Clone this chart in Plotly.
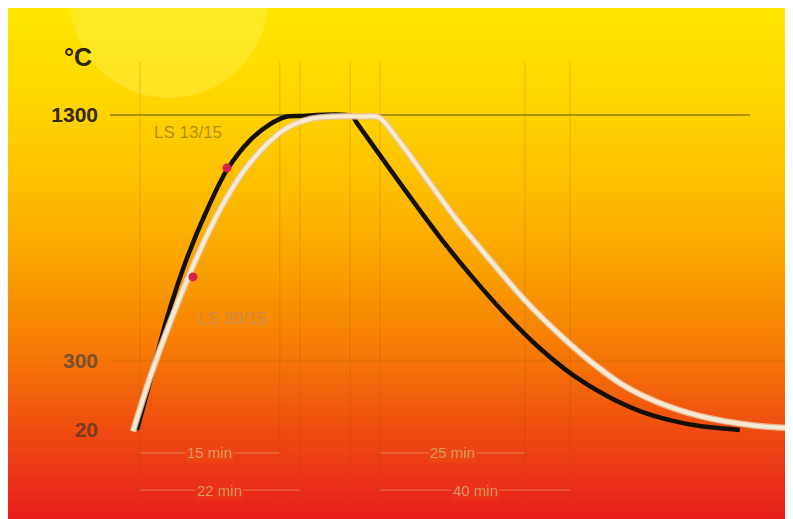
import plotly.graph_objects as go

# ---------------- data (time in minutes, temperature in °C) ----------------
black_time = [0.25, 2.1, 4.0, 6.5, 9.0, 11.5, 14.4, 16.9, 18.75, 20.6, 27.1,
              27.75, 33.1, 38.1, 42.25, 46.5, 50.6, 54.75, 59.0, 63.1, 67.25, 70.6, 75.6]
black_temp = [20, 243, 475, 719, 914, 1077, 1198, 1263, 1292, 1296, 1296,
              1267, 1024, 804, 638, 483, 352, 243, 158, 97, 57, 36, 20]

white_time = [-0.25, 1.9, 4.4, 7.75, 10.6, 13.5, 16.25, 19.0, 21.9, 25.0, 28.5, 30.5,
              33.1, 40.25, 44.4, 48.5, 52.75, 56.9, 61.0, 65.25, 70.6, 76.9, 81.9]
white_temp = [15, 235, 459, 723, 914, 1068, 1174, 1247, 1284, 1294, 1294, 1290,
              1190, 873, 711, 556, 418, 300, 203, 134, 77, 40, 28]

dot_time = [11.5, 7.25]
dot_temp = [1085, 642]

curve_names = ["LS 13/15", "LS 30/15"]
label_time = [6.6, 12.1]
label_temp = [1227, 475]

y_ticks = [20, 300, 1300]
y_tick_labels = ["20", "300", "1300"]

marker_times = [0.6, 18.1, 20.6, 26.9, 30.6, 48.75, 54.4]

bracket_start = [0.6, 0.6, 30.6, 30.6]
bracket_end = [18.1, 20.6, 48.75, 54.4]
bracket_level = [-73, -224, -73, -224]
bracket_labels = ["15 min", "22 min", "25 min", "40 min"]

# ---------------- layout helpers (reference pixel -> paper) ----------------
OFF = 8              # page offset of the figure
W, H = 785, 511
ML = 91
PW = W - ML


def px_x(px):
    return (px - OFF - ML) / PW


def px_y(py):
    return 1 - (py - OFF) / H


def hex_rgb(h):
    h = h.lstrip("#")
    return tuple(int(h[i:i + 2], 16) for i in (0, 2, 4))


grad = [(8, "#FFE600"), (100, "#FFD600"), (200, "#FDBA00"), (280, "#F99C00"),
        (350, "#F67A05"), (420, "#F0520F"), (470, "#EC3618"), (520, "#E61E1A")]


def color_at(py):
    for (a, ca), (b, cb) in zip(grad[:-1], grad[1:]):
        if a <= py <= b:
            f = (py - a) / (b - a)
            r1, g1, b1 = hex_rgb(ca)
            r2, g2, b2 = hex_rgb(cb)
            return "rgb(%d,%d,%d)" % (round(r1 + (r2 - r1) * f), round(g1 + (g2 - g1) * f), round(b1 + (b2 - b1) * f))
    return grad[-1][1]


shapes = []
n = 128
top, bot = 8, 520
for i in range(n):
    y0 = top + (bot - top) * i / n
    y1 = top + (bot - top) * (i + 1) / n + 3
    shapes.append(dict(type="rect", xref="paper", yref="paper", x0=px_x(6), x1=px_x(786),
                       y0=px_y(min(y1, bot)), y1=px_y(y0), fillcolor=color_at((y0 + y1 - 3) / 2),
                       line=dict(width=0), layer="below"))

# faint watermark circle
shapes.append(dict(type="circle", xref="paper", yref="paper", x0=px_x(70), x1=px_x(268),
                   y0=px_y(98), y1=px_y(-100), fillcolor="rgba(255,250,120,0.3)",
                   line=dict(width=0), layer="below"))
shapes.append(dict(type="rect", xref="paper", yref="paper", x0=px_x(0), x1=px_x(800),
                   y0=px_y(8), y1=px_y(-10), fillcolor="white", line=dict(width=0), layer="below"))

# vertical reference lines
for t in marker_times:
    shapes.append(dict(type="line", xref="x", yref="paper", x0=t, x1=t, y0=px_y(500), y1=px_y(62),
                       line=dict(color="rgba(150,80,0,0.2)", width=1.2), layer="below"))

# horizontal lines
shapes.append(dict(type="line", xref="paper", yref="y", x0=px_x(110), x1=px_x(750), y0=1300, y1=1300,
                   line=dict(color="rgba(110,85,0,0.7)", width=1.5), layer="below"))
shapes.append(dict(type="line", xref="paper", yref="y", x0=px_x(110), x1=px_x(790), y0=300, y1=300,
                   line=dict(color="rgba(170,80,0,0.22)", width=1.2), layer="below"))

# brackets
for s, e, lv in zip(bracket_start, bracket_end, bracket_level):
    shapes.append(dict(type="line", xref="x", yref="y", x0=s, x1=e, y0=lv, y1=lv,
                       line=dict(color="rgba(230,170,110,0.5)", width=1.2), layer="below"))

fig = go.Figure()

fig.add_trace(go.Scatter(x=black_time, y=black_temp, mode="lines",
                         line=dict(color="#141008", width=4.5, shape="spline", smoothing=0.9),
                         showlegend=False, hoverinfo="skip"))
fig.add_trace(go.Scatter(x=white_time, y=white_temp, mode="lines",
                         line=dict(color="rgba(230,195,170,0.85)", width=6.5, shape="spline", smoothing=0.9),
                         showlegend=False, hoverinfo="skip"))
fig.add_trace(go.Scatter(x=white_time, y=white_temp, mode="lines",
                         line=dict(color="#F6EBD2", width=4, shape="spline", smoothing=0.9),
                         showlegend=False, hoverinfo="skip"))
fig.add_trace(go.Scatter(x=dot_time, y=dot_temp, mode="markers",
                         marker=dict(color="#D62050", size=9),
                         showlegend=False, hoverinfo="skip"))

annotations = []
label_colors = ["rgba(140,115,0,0.7)", "rgba(190,140,100,0.8)"]
for name, t, T, c in zip(curve_names, label_time, label_temp, label_colors):
    annotations.append(dict(x=t, y=T, xref="x", yref="y", text=name, showarrow=False,
                            font=dict(family="Liberation Sans", size=17, color=c)))

bg_cols = ["#EE4515", "#EA3018", "#EE4515", "#EA3018"]
for s, e, lv, lab, bc in zip(bracket_start, bracket_end, bracket_level, bracket_labels, bg_cols):
    annotations.append(dict(x=(s + e) / 2, y=lv, xref="x", yref="y", text=lab, showarrow=False,
                            bgcolor=bc, borderpad=1,
                            font=dict(family="Liberation Sans", size=15, color="rgba(215,170,110,0.85)")))

annotations.append(dict(x=px_x(94), y=px_y(41), xref="paper", yref="paper", text="<b>°C</b>",
                        showarrow=False, xanchor="right",
                        font=dict(family="Liberation Sans", size=25, color="#2E2400")))

tick_cols = ["#7A3A18", "#7A5030", "#33280A"]
ticktext = ["<b><span style='color:%s'>%s</span></b>" % (c, l) for c, l in zip(tick_cols, y_tick_labels)]

x_lo = (OFF + ML - 135) / 8
x_hi = (OFF + W - 135) / 8
y_hi = 20 + (430 - OFF) * 4.0635
y_lo = 20 - (OFF + H - 430) * 4.0635

fig.update_layout(
    width=W, height=H,
    margin=dict(l=ML, r=0, t=0, b=0),
    paper_bgcolor="white",
    plot_bgcolor="rgba(0,0,0,0)",
    shapes=shapes,
    annotations=annotations,
    xaxis=dict(range=[x_lo, x_hi], visible=False, showgrid=False, zeroline=False, fixedrange=True),
    yaxis=dict(range=[y_lo, y_hi], showgrid=False, zeroline=False, showline=False, ticks="",
               tickvals=y_ticks, ticktext=ticktext, fixedrange=True,
               tickfont=dict(family="Liberation Sans", size=21, color="#33280A")),
)

fig.write_html("out.html")
